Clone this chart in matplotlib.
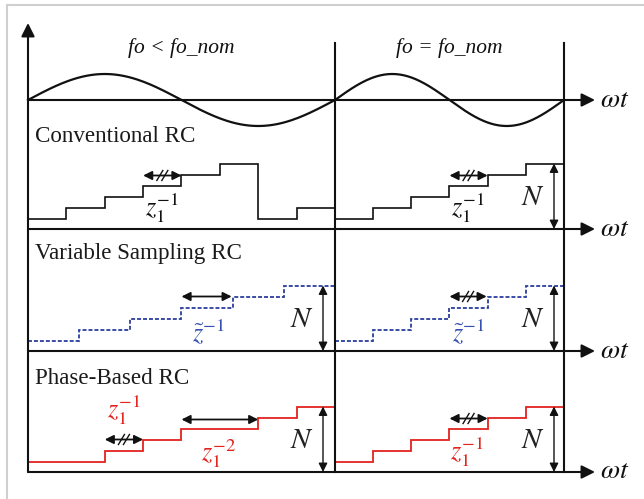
import numpy as np
import matplotlib
matplotlib.use("Agg")
import matplotlib.pyplot as plt

plt.rcParams['mathtext.fontset'] = 'stix'
plt.rcParams['font.family'] = ['Liberation Serif', 'DejaVu Serif']

# sample levels of the delay-line contents (one value per sampling slot)
conv_left_levels = [0, 1, 2, 3, 4, 5, 0, 1]
conv_right_levels = [0, 1, 2, 3, 4, 5]
var_left_levels = [0, 1, 2, 3, 4, 5]
var_right_levels = [0, 1, 2, 3, 4, 5]
phase_left_levels = [0, 0, 1, 2, 3, 3, 4, 5]
phase_right_levels = [0, 1, 2, 3, 4, 5]

row_labels = ["Conventional RC", "Variable Sampling RC", "Phase-Based RC"]
col_titles = ["fo < fo_nom", "fo = fo_nom"]
axis_label = r"$\omega t$"

# layout in pixels (figure coords, y down)
X0, XMID, XEND, XTIP = 28, 335, 564, 595
AXIS_Y = [100, 229, 351, 472]
AMP = 26
BASE_OFF, STEP_H = 10.5, 11
BLACK, BLUE, RED = '#111111', '#2a3f9d', '#e3231f'


def level_y(row, lev):
    return AXIS_Y[row] - BASE_OFF - STEP_H * lev


def slot_x(x_start, x_stop, n, i):
    return x_start + (x_stop - x_start) * i / n


def stair(ax, row, x_start, x_stop, levels, **kw):
    n = len(levels)
    edges = [slot_x(x_start, x_stop, n, i) for i in range(n + 1)]
    ys = [level_y(row, l) for l in levels]
    ax.stairs(ys, edges, baseline=None, **kw)


def dbl_arrow(ax, x0, x1, y, hatch=False, color=BLACK):
    ax.annotate('', xy=(x1, y), xytext=(x0, y),
                arrowprops=dict(arrowstyle='<|-|>', color=color, lw=1.3,
                                mutation_scale=13, shrinkA=0, shrinkB=0))
    if hatch:
        cx = (x0 + x1) / 2
        for d in (-2.5, 2.5):
            ax.plot([cx + d - 3, cx + d + 3], [y + 5, y - 5], color=color, lw=1.0)


def n_arrow(ax, row, x):
    ax.annotate('', xy=(x, AXIS_Y[row]), xytext=(x, level_y(row, 5)),
                arrowprops=dict(arrowstyle='<|-|>', color=BLACK, lw=1.0,
                                mutation_scale=13, shrinkA=0, shrinkB=0))
    ax.text(x - 21, AXIS_Y[row] - 31, '$N$', fontsize=21, ha='center', va='center',
            color='#222222')


fig = plt.figure(figsize=(6.44, 4.99), dpi=100)
ax = fig.add_axes([0, 0, 1, 1])
ax.set_xlim(0, 644)
ax.set_ylim(499, 0)
ax.axis('off')

# light frame
ax.plot([7, 7], [5, 499], color='#cfcfcf', lw=1.5)
ax.plot([7, 644], [5, 5], color='#cfcfcf', lw=1.5)

# axes and dividers
ax.annotate('', xy=(X0, 23), xytext=(X0, AXIS_Y[3]),
            arrowprops=dict(arrowstyle='-|>', color=BLACK, lw=1.5,
                            mutation_scale=20, shrinkA=0, shrinkB=0))
for y in AXIS_Y:
    ax.annotate('', xy=(XTIP, y), xytext=(X0, y),
                arrowprops=dict(arrowstyle='-|>', color=BLACK, lw=1.5,
                                mutation_scale=20, shrinkA=0, shrinkB=0))
    ax.text(600, y, axis_label, fontsize=20, ha='left', va='center', color=BLACK)
for x in (XMID, XEND):
    ax.plot([x, x], [43, AXIS_Y[3]], color=BLACK, lw=1.5)

# column titles
ax.text((X0 + XMID) / 2, 48, col_titles[0], fontsize=15.5, style='italic',
        ha='center', va='center', color=BLACK)
ax.text((XMID + XEND) / 2, 48, col_titles[1], fontsize=15.5, style='italic',
        ha='center', va='center', color=BLACK)

# grid voltage
for xa, xb in ((X0, XMID), (XMID, XEND)):
    xs = np.linspace(xa, xb, 200)
    ax.plot(xs, AXIS_Y[0] - AMP * np.sin(2 * np.pi * (xs - xa) / (xb - xa)),
            color=BLACK, lw=1.6)

# row labels
for lbl, y in zip(row_labels, (136, 254, 378)):
    ax.text(35, y, lbl, fontsize=16.6, ha='left', va='center', color='#1a1a1a')

# conventional RC
stair(ax, 1, X0, XMID, conv_left_levels, color=BLACK, lw=1.2)
stair(ax, 1, XMID, XEND, conv_right_levels, color=BLACK, lw=1.2)
for xa, xb, n in ((X0, XMID, 8), (XMID, XEND, 6)):
    dbl_arrow(ax, slot_x(xa, xb, n, 3), slot_x(xa, xb, n, 4),
              level_y(1, 4) + 1, hatch=True)
    ax.text(slot_x(xa, xb, n, 3) + 2, 216, r'$z_1^{-1}$', fontsize=19,
            ha='left', va='baseline', color=BLACK)
n_arrow(ax, 1, 554)

# variable sampling RC
stair(ax, 2, X0, XMID, var_left_levels, color=BLUE, lw=1.3, ls=(0, (2.2, 1.1)))
stair(ax, 2, XMID, XEND, var_right_levels, color=BLUE, lw=1.3, ls=(0, (2.2, 1.1)))
dbl_arrow(ax, slot_x(X0, XMID, 6, 3), slot_x(X0, XMID, 6, 4) - 1, level_y(2, 4))
dbl_arrow(ax, slot_x(XMID, XEND, 6, 3), slot_x(XMID, XEND, 6, 4) - 1,
          level_y(2, 4), hatch=True)
ax.text(192, 341, r'$\tilde{z}^{-1}$', fontsize=19, ha='left', va='baseline',
        color='#3550b0')
ax.text(452, 341, r'$\tilde{z}^{-1}$', fontsize=19, ha='left', va='baseline',
        color='#3550b0')
n_arrow(ax, 2, 323)
n_arrow(ax, 2, 554)

# phase-based RC
stair(ax, 3, X0, XMID, phase_left_levels, color=RED, lw=1.3)
stair(ax, 3, XMID, XEND, phase_right_levels, color=RED, lw=1.3)
dbl_arrow(ax, slot_x(X0, XMID, 8, 2), slot_x(X0, XMID, 8, 3), level_y(3, 2),
          hatch=True)
dbl_arrow(ax, slot_x(X0, XMID, 8, 4), slot_x(X0, XMID, 8, 6), level_y(3, 4) + 2)
dbl_arrow(ax, slot_x(XMID, XEND, 6, 3), slot_x(XMID, XEND, 6, 4),
          level_y(3, 4) + 1, hatch=True)
ax.text(107, 418, r'$z_1^{-1}$', fontsize=19, ha='left', va='baseline', color=RED)
ax.text(201, 461, r'$z_1^{-2}$', fontsize=19, ha='left', va='baseline', color=RED)
ax.text(450, 460, r'$z_1^{-1}$', fontsize=19, ha='left', va='baseline', color=RED)
n_arrow(ax, 3, 323)
n_arrow(ax, 3, 554)

fig.savefig('out.png', dpi=100)
